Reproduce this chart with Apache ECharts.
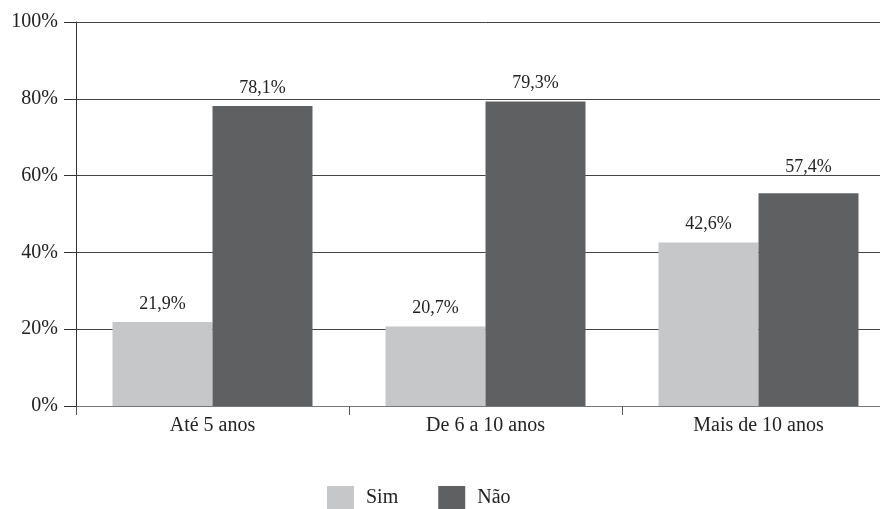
<!DOCTYPE html>
<html>
<head>
<meta charset="utf-8">
<script src="https://cdn.jsdelivr.net/npm/echarts@6/dist/echarts.min.js"></script>
<style>
  html, body { margin: 0; padding: 0; background: #fff; overflow: hidden; }
  #chart { width: 895px; height: 509px; }
</style>
</head>
<body>
<div id="chart"></div>
<script>
// dados
const categories = ["Até 5 anos", "De 6 a 10 anos", "Mais de 10 anos"];
const simValues = [21.9, 20.7, 42.6];
const naoValues = [78.1, 79.3, 55.4];   // altura desenhada da última barra
const simLabels = ["21,9%", "20,7%", "42,6%"];
const naoLabels = ["78,1%", "79,3%", "57,4%"];
const yTicks = [0, 20, 40, 60, 80, 100];

const serif = "Liberation Serif";
const chart = echarts.init(document.getElementById("chart"));

chart.setOption({
  animation: false,
  textStyle: { fontFamily: serif },
  grid: { left: 76, right: 0, top: 22, bottom: 103 },
  legend: {
    top: 486,
    left: 327,
    padding: 0,
    itemWidth: 27,
    itemHeight: 23,
    itemGap: 40,
    icon: "rect",
    textStyle: { fontFamily: serif, fontSize: 20, color: "#222", padding: [0, 0, 0, 7] },
    data: ["Sim", "Não"]
  },
  xAxis: {
    type: "category",
    data: categories,
    axisLine: { lineStyle: { color: "#777", width: 1 } },
    axisTick: { show: true, length: 9, lineStyle: { color: "#555" } },
    axisLabel: { fontFamily: serif, fontSize: 20, color: "#222", margin: 10 }
  },
  yAxis: {
    type: "value",
    min: 0,
    max: 100,
    interval: 20,
    axisLine: { show: true, lineStyle: { color: "#333" } },
    axisTick: { show: true, length: 12, lineStyle: { color: "#333" } },
    axisLabel: {
      fontFamily: serif, fontSize: 20, color: "#222", margin: 18,
      formatter: v => yTicks.indexOf(v) >= 0 ? v + "%" : ""
    },
    splitLine: { show: true, lineStyle: { color: "#444", width: 1 } }
  },
  series: [
    {
      name: "Sim",
      type: "bar",
      data: simValues,
      barWidth: 100,
      barGap: "0%",
      itemStyle: { color: "#c6c7c9" },
      label: {
        show: true, position: "top", distance: 9,
        fontFamily: serif, fontSize: 18, color: "#222",
        formatter: p => simLabels[p.dataIndex]
      }
    },
    {
      name: "Não",
      type: "bar",
      data: naoValues.map((v, i) => i === 2 ? { value: v, label: { offset: [0, -8] } } : v),
      barWidth: 100,
      itemStyle: { color: "#5f6062" },
      label: {
        show: true, position: "top", distance: 9,
        fontFamily: serif, fontSize: 18, color: "#222",
        formatter: p => naoLabels[p.dataIndex]
      }
    }
  ]
});
</script>
</body>
</html>
